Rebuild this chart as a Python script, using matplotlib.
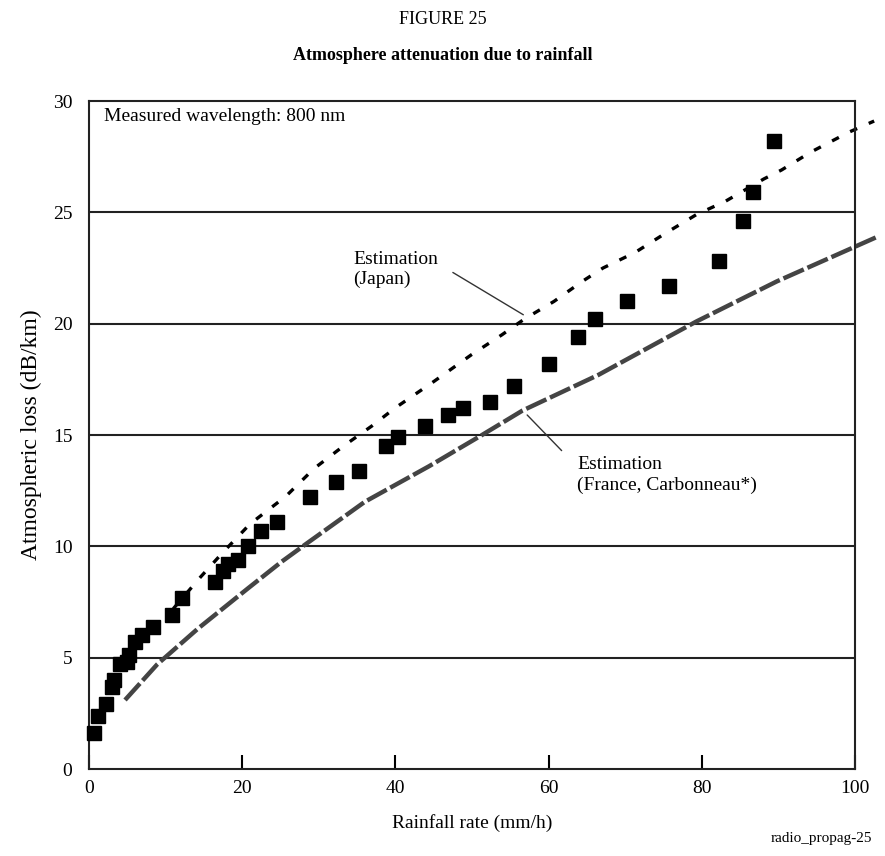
import matplotlib
matplotlib.use('Agg')
import matplotlib.pyplot as plt

plt.rcParams['font.family'] = ['Liberation Serif', 'DejaVu Serif']

# measured points (squares)
rain_meas = [0.6, 1.2, 2.2, 3.0, 3.3, 4.1, 5.0, 5.2, 6.0, 6.9, 8.3, 10.8, 12.2,
             16.5, 17.5, 18.2, 19.4, 20.7, 22.4, 24.5, 28.9, 32.3, 35.2, 38.8,
             40.4, 43.8, 46.9, 48.8, 52.4, 55.5, 60.0, 63.8, 66.1, 70.2, 75.7,
             82.3, 85.4, 86.7, 89.4]
loss_meas = [1.6, 2.4, 2.9, 3.7, 4.0, 4.7, 4.8, 5.1, 5.7, 6.0, 6.4, 6.9, 7.7,
             8.4, 8.9, 9.2, 9.4, 10.0, 10.7, 11.1, 12.2, 12.9, 13.4, 14.5,
             14.9, 15.4, 15.9, 16.2, 16.5, 17.2, 18.2, 19.4, 20.2, 21.0, 21.7,
             22.8, 24.6, 25.9, 28.2]

# Japan estimation
rain_jp = [11.0, 14.5, 17.4, 21.0, 25.7, 29.4, 33.2, 36.9, 39.9, 45.0, 49.9,
           53.9, 56.8, 60.7, 64.4, 67.1, 71.3, 75.2, 79.3, 83.1, 88.1, 90.4,
           94.2, 99.2, 102.5]
loss_jp = [7.2, 8.6, 9.7, 11.0, 12.25, 13.5, 14.5, 15.4, 16.2, 17.4, 18.6,
           19.5, 20.2, 21.0, 21.9, 22.5, 23.2, 24.05, 24.9, 25.5, 26.5, 26.9,
           27.7, 28.6, 29.1]

# France (Carbonneau) estimation
rain_fr = [4.7, 8.9, 14.2, 20.7, 25.1, 28.3, 36.0, 44.4, 51.3, 56.6, 66.5,
           79.3, 89.8, 102.9]
loss_fr = [3.1, 4.7, 6.3, 8.1, 9.3, 10.1, 12.0, 13.6, 15.0, 16.1, 17.7,
           20.1, 21.9, 23.9]

fig = plt.figure(figsize=(8.85, 8.56), dpi=100)
ax = fig.add_axes([0.1006, 0.1016, 0.8655, 0.7804])

for yv in [5, 10, 15, 20, 25]:
    ax.axhline(yv, color='#222222', lw=1.5, zorder=1)

ax.plot(rain_fr, loss_fr, color='#444444', lw=3.2, dashes=(5, 0.9),
        clip_on=False, zorder=2)
ax.plot(rain_jp, loss_jp, color='black', lw=2.4, dashes=(2.3, 3.8),
        clip_on=False, zorder=2)
ax.plot(rain_meas, loss_meas, 's', color='black', ms=9.5, zorder=3,
        clip_on=False)

ax.set_xlim(0, 100)
ax.set_ylim(0, 30)
ax.set_xticks([0, 20, 40, 60, 80, 100])
ax.set_yticks([0, 5, 10, 15, 20, 25, 30])
ax.tick_params(axis='x', direction='in', length=10, width=1.5, labelsize=14,
               pad=8)
ax.tick_params(axis='y', length=0, labelsize=14, pad=12)
for s in ax.spines.values():
    s.set_linewidth(1.5)
    s.set_color('#222222')

ax.set_xlabel('Rainfall rate (mm/h)', fontsize=14, labelpad=12)
ax.set_ylabel('Atmospheric loss (dB/km)', fontsize=17, labelpad=8)

ax.text(2, 29.3, 'Measured wavelength: 800 nm', fontsize=14, va='center')

# annotations
ax.annotate('', xy=(56.7, 20.4), xytext=(47.5, 22.3),
            arrowprops=dict(arrowstyle='-', color='#333333', lw=1,
                            shrinkA=0, shrinkB=0))
ax.text(34.5, 22.45, 'Estimation\n(Japan)', fontsize=14, va='center',
        ha='left', linespacing=1.2)
ax.annotate('', xy=(57.2, 15.9), xytext=(61.7, 14.3),
            arrowprops=dict(arrowstyle='-', color='#333333', lw=1,
                            shrinkA=0, shrinkB=0))
ax.text(63.7, 13.2, 'Estimation\n(France, Carbonneau*)', fontsize=14,
        va='center', ha='left', linespacing=1.3)

fig.text(0.5, 0.977, 'FIGURE 25', ha='center', va='center', fontsize=13)
fig.text(0.5, 0.935, 'Atmosphere attenuation due to rainfall', ha='center',
         va='center', fontsize=13, fontweight='bold')
fig.text(0.985, 0.021, 'radio_propag-25', ha='right', va='center',
         fontsize=11)

fig.savefig('out.png', dpi=100)
